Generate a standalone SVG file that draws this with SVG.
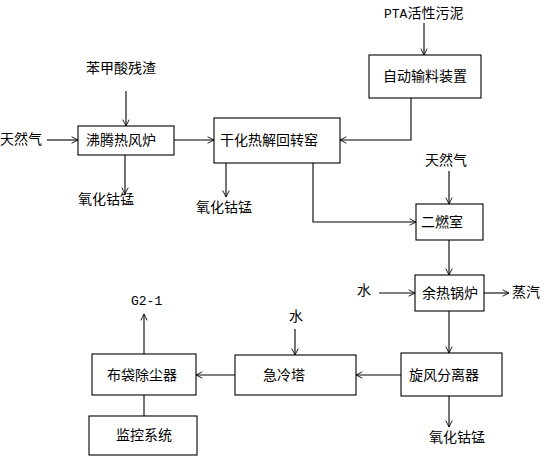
<svg xmlns="http://www.w3.org/2000/svg" width="544" height="456" viewBox="0 0 544 456">
<style>
  .box{fill:#fff;stroke:#000;stroke-width:1.1}
  .ln{fill:none;stroke:#000;stroke-width:1.1}
  text{font-family:"Noto Sans CJK SC","Liberation Sans",sans-serif;font-size:14px;fill:#000}
  .m{font-family:"Liberation Mono",monospace;font-size:13px}
</style>
<defs>
  <marker id="a" viewBox="0 0 10 10" refX="9" refY="5" markerWidth="8" markerHeight="8" markerUnits="userSpaceOnUse" orient="auto">
    <polyline points="1,1 9,5 1,9" fill="none" stroke="#000" stroke-width="1.1"/>
  </marker>
</defs>
<rect width="544" height="456" fill="#fff"/>
<g id="connectors">
  <line class="ln" x1="126" y1="91" x2="126" y2="126" marker-end="url(#a)"/>
  <line class="ln" x1="47" y1="140" x2="78" y2="140" marker-end="url(#a)"/>
  <line class="ln" x1="174" y1="140" x2="214" y2="140" marker-end="url(#a)"/>
  <line class="ln" x1="125" y1="155" x2="125" y2="194" marker-end="url(#a)"/>
  <line class="ln" x1="226" y1="163" x2="226" y2="197" marker-end="url(#a)"/>
  <line class="ln" x1="424" y1="23" x2="424" y2="55" marker-end="url(#a)"/>
  <polyline class="ln" points="411,98 411,140 340,140" marker-end="url(#a)"/>
  <line class="ln" x1="449" y1="171" x2="449" y2="204" marker-end="url(#a)"/>
  <polyline class="ln" points="313,163 313,222 416,222" marker-end="url(#a)"/>
  <line class="ln" x1="449" y1="240" x2="449" y2="275" marker-end="url(#a)"/>
  <line class="ln" x1="379" y1="293" x2="415" y2="293" marker-end="url(#a)"/>
  <line class="ln" x1="484" y1="293" x2="509" y2="293" marker-end="url(#a)"/>
  <line class="ln" x1="449" y1="311" x2="449" y2="353" marker-end="url(#a)"/>
  <line class="ln" x1="449" y1="396" x2="449" y2="427" marker-end="url(#a)"/>
  <line class="ln" x1="401" y1="375" x2="356" y2="375" marker-end="url(#a)"/>
  <line class="ln" x1="295" y1="329" x2="295" y2="355" marker-end="url(#a)"/>
  <line class="ln" x1="235" y1="375" x2="196" y2="375" marker-end="url(#a)"/>
  <line class="ln" x1="144" y1="354" x2="144" y2="314" marker-end="url(#a)"/>
  <line class="ln" x1="144" y1="395" x2="144" y2="416"/>
</g>
<g id="labels">
  <text x="86" y="73">苯甲酸残渣</text>
  <text x="0" y="144">天然气</text>
  <text x="78" y="204">氧化钴锰</text>
  <text x="196" y="212">氧化钴锰</text>
  <text x="384" y="18"><tspan class="m">PTA</tspan>活性污泥</text>
  <text x="425" y="165">天然气</text>
  <text x="357" y="295">水</text>
  <text x="512" y="297">蒸汽</text>
  <text x="429" y="442">氧化钴锰</text>
  <text x="289" y="321">水</text>
  <text class="m" x="131" y="305">G2-1</text>
</g>
<g id="n1"><rect class="box" x="78" y="126" width="96" height="29"/><text x="86" y="145">沸腾热风炉</text></g>
<g id="n2"><rect class="box" x="214" y="118" width="126" height="45"/><text x="220" y="145">干化热解回转窑</text></g>
<g id="n3"><rect class="box" x="369" y="55" width="112" height="43"/><text x="383" y="81">自动输料装置</text></g>
<g id="n4"><rect class="box" x="416" y="204" width="67" height="36"/><text x="421" y="227">二燃室</text></g>
<g id="n5"><rect class="box" x="415" y="275" width="69" height="36"/><text x="422" y="298">余热锅炉</text></g>
<g id="n6"><rect class="box" x="401" y="353" width="101" height="43"/><text x="409" y="380">旋风分离器</text></g>
<g id="n7"><rect class="box" x="235" y="355" width="121" height="40"/><text x="263" y="380">急冷塔</text></g>
<g id="n8"><rect class="box" x="92" y="354" width="104" height="41"/><text x="107" y="380">布袋除尘器</text></g>
<g id="n9"><rect class="box" x="89" y="416" width="108" height="39"/><text x="116" y="440">监控系统</text></g>
</svg>
